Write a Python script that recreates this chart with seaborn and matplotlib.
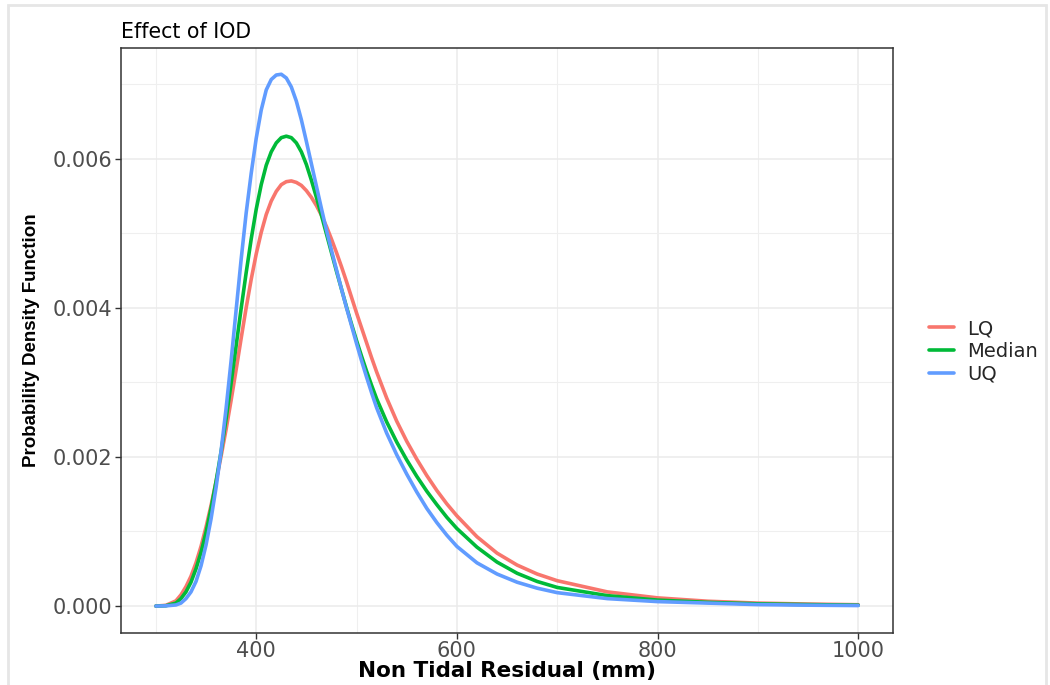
import numpy as np
import pandas as pd
import matplotlib
matplotlib.use("Agg")
import matplotlib.pyplot as plt
import seaborn as sns
from matplotlib.patches import Rectangle
from matplotlib.ticker import MultipleLocator, FormatStrFormatter

# Values
residual_mm = [300, 310, 320, 325, 330, 335, 340, 345, 350, 355, 360, 365, 370, 375,
               380, 385, 390, 395, 400, 405, 410, 415, 420, 425, 430, 435, 440, 445,
               450, 455, 460, 465, 470, 475, 480, 485, 490, 495, 500, 505, 510, 515,
               520, 530, 540, 550, 560, 570, 580, 590, 600, 620, 640, 660, 680, 700,
               750, 800, 850, 900, 950, 1000]

pdf_lq = [0.0, 0.00001, 0.00007, 0.00015, 0.00026, 0.0004, 0.00058, 0.0008, 0.00106,
          0.00135, 0.00167, 0.00201, 0.00237, 0.00276, 0.00317, 0.00359, 0.004,
          0.00438, 0.00472, 0.00501, 0.00525, 0.00543, 0.00556, 0.00565, 0.00569,
          0.0057, 0.00568, 0.00564, 0.00557, 0.00548, 0.00537, 0.00524, 0.00509,
          0.00492, 0.00474, 0.00455, 0.00435, 0.00414, 0.00393, 0.00373, 0.00353,
          0.00333, 0.00314, 0.00279, 0.00248, 0.00221, 0.00197, 0.00175, 0.00155,
          0.00137, 0.00121, 0.00093, 0.00071, 0.00055, 0.00043, 0.00034, 0.00019,
          0.00011, 0.000065, 0.00004, 0.000027, 0.000018]

pdf_median = [0.0, 0.000005, 0.00004, 0.0001, 0.00019, 0.00032, 0.0005, 0.00072,
              0.00099, 0.00131, 0.00167, 0.00207, 0.00251, 0.00299, 0.00349, 0.00399,
              0.00447, 0.00492, 0.00532, 0.00565, 0.00591, 0.00609, 0.00621, 0.00628,
              0.0063, 0.00628, 0.00621, 0.00609, 0.00592, 0.00571, 0.00548, 0.00524,
              0.00499, 0.00474, 0.00449, 0.00425, 0.00401, 0.00378, 0.00356, 0.00335,
              0.00315, 0.00296, 0.00278, 0.00247, 0.0022, 0.00196, 0.00174, 0.00154,
              0.00136, 0.00119, 0.00104, 0.00079, 0.00059, 0.00044, 0.00033, 0.00025,
              0.00014, 0.00008, 0.00005, 0.00003, 0.00002, 0.000012]

pdf_uq = [0.0, 0.000003, 0.000015, 0.00004, 0.0001, 0.00019, 0.00033, 0.00054,
          0.00082, 0.00117, 0.00159, 0.00208, 0.00265, 0.00329, 0.00397, 0.00465,
          0.00527, 0.0058, 0.00627, 0.00665, 0.00692, 0.00706, 0.00712, 0.00713,
          0.00708, 0.00696, 0.00677, 0.00652, 0.00623, 0.00593, 0.00563, 0.00533,
          0.00504, 0.00477, 0.00451, 0.00425, 0.004, 0.00376, 0.00352, 0.00329,
          0.00307, 0.00286, 0.00266, 0.00232, 0.00203, 0.00177, 0.00153, 0.00131,
          0.00112, 0.00095, 0.0008, 0.00058, 0.00043, 0.00032, 0.00024, 0.00018,
          0.0001, 0.00006, 0.00004, 0.00002, 0.000012, 0.000007]

series_names = ["LQ", "Median", "UQ"]
series_colors = ["#F8766D", "#00BA38", "#619CFF"]

df = pd.concat([
    pd.DataFrame({"Residual": residual_mm, "PDF": vals, "Quantile": name})
    for name, vals in zip(series_names, [pdf_lq, pdf_median, pdf_uq])
])

sns.set_theme(style="white")
plt.rcParams["font.family"] = ["DejaVu Sans"]

fig = plt.figure(figsize=(10.5, 6.85), dpi=100)
ax = fig.add_axes([0.115, 0.0764, 0.7358, 0.854])

sns.lineplot(data=df, x="Residual", y="PDF", hue="Quantile",
             palette=dict(zip(series_names, series_colors)),
             linewidth=2.6, ax=ax, legend=True)

# ggplot-like limits with 5% expansion
xmin, xmax = 300, 1000
ymax = max(pdf_uq)
ax.set_xlim(xmin - 0.05 * (xmax - xmin), xmax + 0.05 * (xmax - xmin))
ax.set_ylim(-0.05 * ymax, 1.05 * ymax)

ax.xaxis.set_major_locator(MultipleLocator(200))
ax.xaxis.set_minor_locator(MultipleLocator(100))
ax.yaxis.set_major_locator(MultipleLocator(0.002))
ax.yaxis.set_minor_locator(MultipleLocator(0.001))
ax.yaxis.set_major_formatter(FormatStrFormatter("%.3f"))

ax.grid(which="major", color="#EBEBEB", linewidth=1.1)
ax.grid(which="minor", color="#EFEFEF", linewidth=0.8)
ax.set_axisbelow(True)

for s in ax.spines.values():
    s.set_color("#333333")
    s.set_linewidth(1.1)

ax.tick_params(axis="both", which="major", direction="out", length=4, width=1,
               color="#333333", labelsize=15, labelcolor="#4D4D4D", pad=2,
               bottom=True, left=True)
ax.tick_params(axis="both", which="minor", length=0)

ax.set_xlabel("Non Tidal Residual (mm)", fontsize=15.5, fontweight="bold",
              color="black", labelpad=0)
ax.set_ylabel("Probability Density Function", fontsize=13.5, fontweight="bold",
              color="black", family=["Liberation Sans", "DejaVu Sans"])
ax.yaxis.set_label_coords(-0.104, 0.5)
ax.set_title("Effect of IOD", loc="left", fontsize=14.8, color="black", pad=7)

handles, labels = ax.get_legend_handles_labels()
ax.legend(handles, labels, loc="center left", bbox_to_anchor=(0.868, 0.487),
          bbox_transform=fig.transFigure, frameon=False, fontsize=14,
          handlelength=1.3, handletextpad=0.65, labelspacing=0.2)

# light outer frame as in the reference
fig.patches.append(Rectangle((8 / 1050, -0.05), 1038 / 1050, 1.05 - 5 / 685,
                             transform=fig.transFigure, fill=False,
                             edgecolor="#E6E6E6", linewidth=2))

fig.savefig("out.png", dpi=100)
